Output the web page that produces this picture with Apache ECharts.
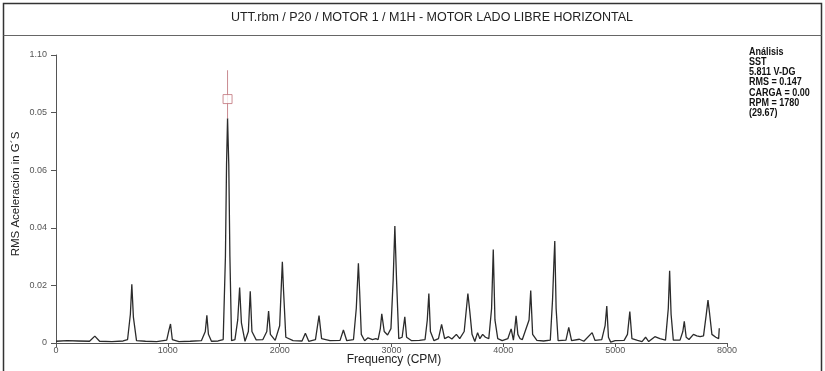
<!DOCTYPE html>
<html>
<head>
<meta charset="utf-8">
<script src="https://cdn.jsdelivr.net/npm/echarts@6/dist/echarts.min.js"></script>
<style>
html,body{margin:0;padding:0;background:#fff;}
#chart{width:825px;height:371px;}
</style>
</head>
<body>
<div id="chart"></div>
<script>
// Spectrum (frequency in CPM, amplitude in G RMS)
const freqs = [0,100,200,300,347,390,500,600,640,665,678,692,720,800,900,990,1010,1024,1040,1100,1200,1300,1335,1349,1363,1390,1450,1495,1515,1525,1534,1545,1555,1570,1600,1625,1642,1658,1690,1720,1737,1752,1790,1850,1885,1901,1917,1960,2000,2015,2024,2035,2055,2120,2200,2230,2260,2320,2352,2375,2450,2540,2570,2600,2660,2685,2704,2715,2730,2760,2790,2830,2860,2880,2900,2913,2935,2965,2995,3015,3030,3045,3065,3095,3119,3135,3180,3250,3300,3320,3334,3348,3380,3420,3448,3475,3510,3540,3580,3610,3650,3670,3683,3700,3720,3745,3770,3790,3815,3840,3870,3895,3910,3925,3950,3990,4040,4070,4090,4100,4114,4130,4150,4170,4230,4245,4262,4300,4360,4420,4440,4452,4460,4472,4490,4560,4585,4610,4680,4720,4794,4820,4880,4910,4925,4940,4960,5000,5080,5110,5131,5150,5200,5240,5272,5300,5355,5400,5450,5475,5487,5500,5520,5580,5605,5618,5635,5660,5700,5730,5760,5790,5815,5830,5845,5865,5880,5900,5925,5931];
const amps = [0.0006,0.0008,0.0007,0.0006,0.0024,0.0006,0.0005,0.0007,0.0012,0.010,0.0204,0.009,0.0008,0.0006,0.0005,0.0010,0.0045,0.0066,0.0012,0.0005,0.0006,0.0008,0.004,0.0096,0.003,0.0006,0.0007,0.0012,0.030,0.062,0.078,0.062,0.030,0.0008,0.0012,0.008,0.0193,0.007,0.0006,0.004,0.018,0.004,0.0011,0.0012,0.004,0.0111,0.003,0.0009,0.006,0.020,0.0282,0.018,0.002,0.0008,0.0007,0.0034,0.0006,0.0012,0.0095,0.0015,0.0008,0.0009,0.0045,0.0008,0.0012,0.012,0.0277,0.018,0.003,0.0008,0.0018,0.0012,0.0015,0.0012,0.005,0.0101,0.004,0.0028,0.005,0.022,0.0406,0.022,0.0015,0.002,0.0091,0.002,0.0008,0.0009,0.0012,0.008,0.0172,0.004,0.0008,0.0015,0.0065,0.0015,0.0022,0.0014,0.003,0.0015,0.004,0.012,0.0172,0.011,0.003,0.0005,0.0036,0.0015,0.003,0.002,0.0015,0.012,0.0325,0.008,0.0015,0.0008,0.0015,0.0049,0.001,0.004,0.0094,0.003,0.0015,0.0012,0.008,0.0182,0.003,0.0009,0.0007,0.001,0.015,0.0277,0.0354,0.012,0.0008,0.001,0.0054,0.0008,0.0013,0.0006,0.0036,0.0009,0.0012,0.006,0.0128,0.002,0.0003,0.0008,0.0009,0.003,0.0109,0.0015,0.0009,0.0005,0.002,0.0005,0.0022,0.0015,0.001,0.012,0.0251,0.010,0.001,0.001,0.004,0.0075,0.002,0.0012,0.003,0.0025,0.0022,0.0025,0.010,0.0149,0.010,0.003,0.0025,0.0020,0.0015,0.0051];

// Cursor marker
const cursorFreq = 1534;
const cursorLevels = [0.078, 0.0947];
const markerLevel = 0.0847;

// Axis tick labels as shown
const xTickLabels = ['0','1000','2000','3000','4000','5000','8000'];
const yTickLabels = ['0','0.02','0.04','0.06','0.05','1.10'];

const titleText = 'UTT.rbm / P20 / MOTOR 1 / M1H - MOTOR LADO LIBRE HORIZONTAL';
const infoLines = ['Análisis','SST','5.811 V-DG','RMS = 0.147','CARGA = 0.00','RPM = 1780','(29.67)'];

const spectrum = freqs.map((f, i) => [f, amps[i]]);
const cursorLine = cursorLevels.map(v => [cursorFreq, v]);

const chart = echarts.init(document.getElementById('chart'), null, {renderer: 'canvas'});
const FONT = '"Liberation Sans", Arial, sans-serif';

const infoGraphics = infoLines.map((t, i) => ({
  type: 'text', x: 0, y: i * 10.2,
  style: {text: t, font: 'bold 10px "Liberation Sans", Arial, sans-serif', fill: '#111', verticalAlign: 'middle'}
}));

chart.setOption({
  animation: false,
  backgroundColor: '#fff',
  grid: {left: 56, right: 98, top: 55, bottom: 28},
  xAxis: {
    type: 'value', min: 0, max: 6000, interval: 1000,
    axisLine: {show: true, lineStyle: {color: '#555', width: 1}},
    axisTick: {show: true, length: 4, lineStyle: {color: '#555'}},
    axisLabel: {
      fontSize: 9, color: '#555', fontFamily: FONT, margin: 3,
      formatter: v => xTickLabels[Math.round(v / 1000)] ?? ''
    },
    splitLine: {show: false}
  },
  yAxis: {
    type: 'value', min: 0, max: 0.1, interval: 0.02,
    axisLine: {show: true, lineStyle: {color: '#555', width: 1}},
    axisTick: {show: true, length: 5, lineStyle: {color: '#555'}},
    axisLabel: {
      fontSize: 9, color: '#555', fontFamily: FONT, margin: 9,
      formatter: v => yTickLabels[Math.round(v / 0.02)] ?? ''
    },
    splitLine: {show: false}
  },
  series: [
    {
      type: 'line', data: spectrum, showSymbol: false, symbol: 'none',
      lineStyle: {color: '#2b2b2b', width: 1.3}, z: 2
    },
    {
      type: 'line', data: cursorLine, showSymbol: false, symbol: 'none',
      lineStyle: {color: '#c98a90', width: 1}, z: 3
    },
    {
      type: 'scatter', data: [[cursorFreq, markerLevel]], symbol: 'rect', symbolSize: 9,
      itemStyle: {color: '#fff', borderColor: '#c0727b', borderWidth: 1}, z: 4
    }
  ],
  graphic: [
    {type: 'rect', shape: {x: 3.5, y: 3.5, width: 818, height: 372}, style: {fill: 'none', stroke: '#333', lineWidth: 1.5}, z: 100},
    {type: 'line', shape: {x1: 3.5, y1: 35.5, x2: 821.5, y2: 35.5}, style: {stroke: '#666', lineWidth: 1.2}, z: 100},
    {type: 'text', x: 432, y: 18, style: {text: titleText, font: '12.5px ' + FONT, fill: '#222', align: 'center', verticalAlign: 'middle'}},
    {type: 'text', x: 16, y: 194, rotation: Math.PI / 2, style: {text: 'RMS Aceleración in G´S', font: '11.5px ' + FONT, fill: '#222', align: 'center', verticalAlign: 'middle'}},
    {type: 'text', x: 394, y: 360, style: {text: 'Frequency (CPM)', font: '12px ' + FONT, fill: '#222', align: 'center', verticalAlign: 'middle'}},
    {type: 'group', x: 749, y: 52, scaleX: 0.9, children: infoGraphics}
  ]
});
</script>
</body>
</html>
